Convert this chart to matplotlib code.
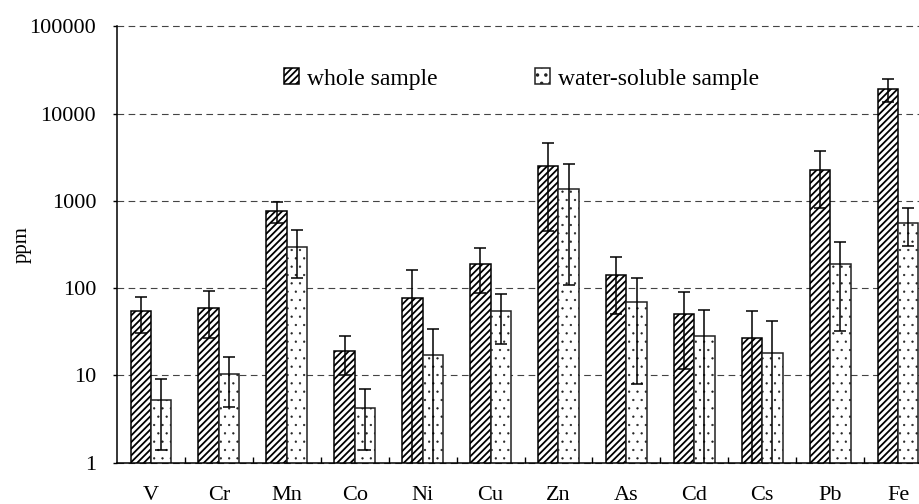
import numpy as np
import matplotlib
matplotlib.use("Agg")
import matplotlib.pyplot as plt

# ---- data ----
categories = ['V', 'Cr', 'Mn', 'Co', 'Ni', 'Cu', 'Zn', 'As', 'Cd', 'Cs', 'Pb', 'Fe']
whole = [55, 60, 760, 19, 77, 187, 2500, 140, 51, 27, 2270, 19300]
whole_err = [24, 33, 205, 9, 84, 100, 2050, 90, 39, 27, 1450, 5700]
water = [5.2, 10.4, 294, 4.2, 17.2, 54, 1380, 69, 28, 18, 187, 560]
water_err = [3.8, 6, 165, 2.8, 17, 31, 1270, 61, 28, 24, 155, 260]
ytick_values = [1, 10, 100, 1000, 10000, 100000]
ytick_labels = ['1', '10', '100', '1000', '10000', '100000']
series_names = ['whole sample', 'water-soluble sample']

plt.rcParams['font.family'] = ['Liberation Serif', 'DejaVu Serif']
plt.rcParams['hatch.linewidth'] = 1.3
plt.rcParams['hatch.color'] = 'black'

fig = plt.figure(figsize=(9.2, 5.04), dpi=100)
ax = fig.add_axes([117 / 920, 41.3 / 504, 815 / 920, 436.4 / 504])

x = np.arange(len(categories))
w = 0.3

b1 = ax.bar(x - w / 2, whole, width=w, color='white', edgecolor='black',
            linewidth=1.1, hatch='/////', label=series_names[0], zorder=2)
b2 = ax.bar(x + w / 2, water, width=w, color='white', edgecolor='#222222',
            linewidth=1.1, hatch='..', label=series_names[1], zorder=2)
for p in b2.patches:
    try:
        p.set_hatch_linewidth(0.4)
    except Exception:
        pass

ax.set_yscale('log', nonpositive='clip')
ax.errorbar(x - w / 2, whole, yerr=whole_err, fmt='none', ecolor='black',
            elinewidth=1.1, capsize=4, capthick=1.1, zorder=3)
ax.errorbar(x + w / 2, water, yerr=water_err, fmt='none', ecolor='black',
            elinewidth=1.1, capsize=4, capthick=1.1, zorder=3)

ax.set_xlim(-0.5, len(categories) - 0.5)
ax.set_ylim(1, 100000)

ax.set_yticks(ytick_values, labels=ytick_labels)
ax.yaxis.set_minor_locator(matplotlib.ticker.NullLocator())
ax.tick_params(axis='y', which='major', direction='out', length=3, width=1,
               pad=12, labelsize=16, color='black')

ax.set_xticks(x, labels=categories)
ax.set_xticks(np.arange(0.5, len(categories) - 0.5, 1), minor=True)
ax.tick_params(axis='x', which='major', length=0, pad=17, labelsize=16)
ax.tick_params(axis='x', which='minor', direction='in', length=4.5, width=1)

ax.set_axisbelow(True)
ax.yaxis.grid(True, which='major', color='#444444', linestyle=(0, (6, 4)),
              linewidth=0.8)
for gl in ax.get_ygridlines():
    gl.set_clip_on(False)

for side in ['top', 'right']:
    ax.spines[side].set_visible(False)
for side in ['left', 'bottom']:
    ax.spines[side].set_linewidth(1.1)
    ax.spines[side].set_color('black')

fig.text(22 / 920, 1 - 245 / 504, 'ppm', rotation=90, ha='center',
         va='center', fontsize=15)

ax.legend(handles=[b1, b2], loc='center left',
          bbox_to_anchor=(284 / 920, 1 - 79 / 504),
          bbox_transform=fig.transFigure, ncol=2, frameon=False,
          fontsize=17, handlelength=0.65, handleheight=0.65,
          handletextpad=0.34, columnspacing=4.1, borderpad=0,
          borderaxespad=0)

fig.savefig('out.png', dpi=100)
